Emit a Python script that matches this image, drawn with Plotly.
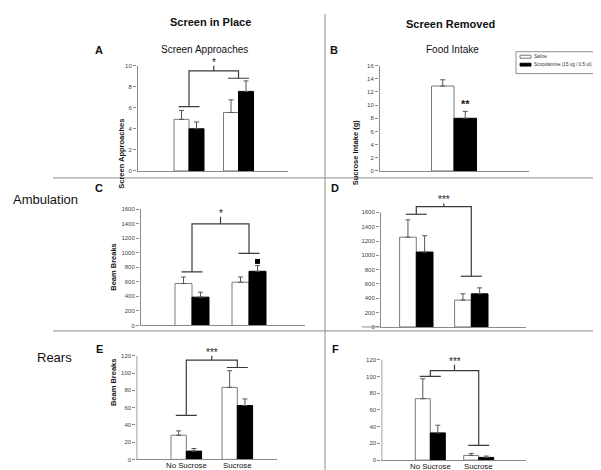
import plotly.graph_objects as go

W, H = 601, 470
FONT = "Liberation Sans, Arial, sans-serif"

# ---------------- data ----------------
groups = ["No Sucrose", "Sucrose"]
series_names = ["Saline", "Scopolamine (15 ug / 0.5 ul)"]

a_saline = [4.9, 5.55]
a_saline_sem = [0.85, 1.2]
a_scop = [4.0, 7.55]
a_scop_sem = [0.65, 1.0]

b_saline = [12.9]
b_saline_sem = [0.95]
b_scop = [8.0]
b_scop_sem = [1.05]

c_saline = [576, 594]
c_saline_sem = [90, 72]
c_scop = [389, 744]
c_scop_sem = [68, 78]

d_saline = [1254, 375]
d_saline_sem = [242, 88]
d_scop = [1046, 463]
d_scop_sem = [228, 83]

e_saline = [28, 83.4]
e_saline_sem = [5, 19.3]
e_scop = [9.6, 62.4]
e_scop_sem = [3, 7.6]

f_saline = [73.4, 5.6]
f_saline_sem = [23.8, 2.4]
f_scop = [32.5, 3.2]
f_scop_sem = [9.2, 1.6]

# significance brackets: [group-1 bar level, group-2 bar level, connector level, tick top]
a_bracket = [6.1, 8.8, 9.5, 10.0]
c_bracket = [735, 990, 1396, 1494]
d_bracket = [1574, 708, 1681, 1725]
e_bracket = [51, 106.4, 115, 120]
f_bracket = [100, 17.5, 107, 114]
a_sig, c_sig, d_sig, e_sig, f_sig = "*", "*", "***", "***", "***"
b_sig, b_sig_level = "**", 10.2
c_marker_level = 880

# ---------------- panel geometry (pixels) ----------------
panels = [
    dict(letter="A", sal=a_saline, sal_e=a_saline_sem, sco=a_scop, sco_e=a_scop_sem,
         left=129, right=280, c=[181, 230.5], y0=164, ytop_px=58, ytop=10, dtick=2, ymax=10.4,
         bw=15, bracket=a_bracket, sig=a_sig, ytitle="Screen Approaches", ytx=108, xlabels=False),
    dict(letter="B", sal=b_saline, sal_e=b_saline_sem, sco=b_scop, sco_e=b_scop_sem,
         left=371, right=521, c=[446], y0=164, ytop_px=58, ytop=16, dtick=2, ymax=16.4,
         bw=22.5, bracket=None, sig=None, ytitle="Sucrose Intake (g)", ytx=347, xlabels=False),
    dict(letter="C", sal=c_saline, sal_e=c_saline_sem, sco=c_scop, sco_e=c_scop_sem,
         left=132, right=297, c=[184, 241], y0=319.5, ytop_px=202.3, ytop=1600, dtick=200, ymax=1650,
         bw=17, bracket=c_bracket, sig=c_sig, ytitle="Beam Breaks", ytx=100, xlabels=False),
    dict(letter="D", sal=d_saline, sal_e=d_saline_sem, sco=d_scop, sco_e=d_scop_sem,
         left=372, right=518, c=[408.3, 463.3], y0=321, ytop_px=205.7, ytop=1600, dtick=200, ymax=1760,
         bw=16.7, bracket=d_bracket, sig=d_sig, ytitle=None, ytx=None, xlabels=False),
    dict(letter="E", sal=e_saline, sal_e=e_saline_sem, sco=e_scop, sco_e=e_scop_sem,
         left=128.3, right=269.3, c=[178.3, 229.3], y0=454.3, ytop_px=350, ytop=120, dtick=20, ymax=124,
         bw=15.3, bracket=e_bracket, sig=e_sig, ytitle="Beam Breaks", ytx=100, xlabels=True),
    dict(letter="F", sal=f_saline, sal_e=f_saline_sem, sco=f_scop, sco_e=f_scop_sem,
         left=373.3, right=518.3, c=[422.3, 470.7], y0=455, ytop_px=354, ytop=120, dtick=20, ymax=124,
         bw=15, bracket=f_bracket, sig=f_sig, ytitle=None, ytx=None, xlabels=True),
]

AXIS_GRAY = "#8a8a8a"
LINE_DARK = "#3a3a3a"

fig = go.Figure()
shapes = []
annotations = []
layout = {}


def px(x):
    return x / W


def py(y):
    return 1 - y / H


def ann(x, y, text, size, bold=False, xanchor="center", yanchor="middle", color="#111"):
    annotations.append(dict(
        x=px(x), y=py(y), xref="paper", yref="paper", text=f"<b>{text}</b>" if bold else text,
        showarrow=False, xanchor=xanchor, yanchor=yanchor, borderpad=0,
        font=dict(family=FONT, size=size, color=color)))


for i, p in enumerate(panels):
    sfx = "" if i == 0 else str(i + 1)
    xa, ya = "x" + sfx, "y" + sfx
    ncat = len(p["sal"])
    xs = list(range(1, ncat + 1))
    unit = (p["c"][1] - p["c"][0]) if ncat > 1 else 50.0
    xr0 = 1 - (p["c"][0] - p["left"]) / unit
    xr1 = ncat + (p["right"] - p["c"][-1]) / unit
    sc = (p["y0"] - p["ytop_px"]) / p["ytop"]
    dom_y = [py(p["y0"]), py(p["y0"] - sc * p["ymax"])]
    w = p["bw"] / unit

    fig.add_trace(go.Bar(
        x=xs, y=p["sal"], width=w, offset=-w, name=series_names[0], showlegend=False,
        marker=dict(color="white", line=dict(color="#7a7a7a", width=1)),
        error_y=dict(type="data", symmetric=False, array=p["sal_e"], arrayminus=[0] * ncat,
                     color="#555", thickness=1, width=2.5),
        xaxis=xa, yaxis=ya, hoverinfo="skip"))
    fig.add_trace(go.Bar(
        x=xs, y=p["sco"], width=w, offset=0, name=series_names[1], showlegend=False,
        marker=dict(color="black", line=dict(color="black", width=1)),
        error_y=dict(type="data", symmetric=False, array=p["sco_e"], arrayminus=[0] * ncat,
                     color="#555", thickness=1, width=2.5),
        xaxis=xa, yaxis=ya, hoverinfo="skip"))

    layout["xaxis" + sfx] = dict(
        domain=[px(p["left"]), px(p["right"])], anchor=ya, range=[xr0, xr1],
        showline=True, linecolor=AXIS_GRAY, linewidth=1, showgrid=False, zeroline=False,
        ticks="", showticklabels=False, fixedrange=True)
    layout["yaxis" + sfx] = dict(
        domain=dom_y, anchor=xa, range=[0, p["ymax"]],
        tickmode="array", tickvals=list(range(0, int(p["ytop"]) + 1, int(p["dtick"]))),
        showline=False, showgrid=False,
        zeroline=False, ticks="outside", ticklen=3, tickcolor=AXIS_GRAY, tickwidth=1,
        tickfont=dict(family=FONT, size=6, color="#444"), fixedrange=True)

    # y axis line drawn only up to the top tick
    lx = xr0 + 0.5 / unit
    shapes.append(dict(type="line", xref=xa, yref=ya, x0=lx, x1=lx, y0=0, y1=p["ytop"],
                       line=dict(color=AXIS_GRAY, width=1)))

    # category labels under the x axis
    if p["xlabels"]:
        for xv, g in zip(xs, groups):
            annotations.append(dict(x=xv, y=py(p["y0"] + 6.5), xref=xa, yref="paper", text=g,
                                    showarrow=False, yanchor="middle", borderpad=0,
                                    font=dict(family=FONT, size=7.8, color="#111")))

    # significance bracket
    if p["bracket"]:
        g1, g2, top, tk = p["bracket"]
        hw = 10.5 / unit
        ln = dict(color=LINE_DARK, width=1.2)
        shapes.append(dict(type="line", xref=xa, yref=ya, x0=1 - hw, x1=1 + hw, y0=g1, y1=g1, line=ln))
        shapes.append(dict(type="line", xref=xa, yref=ya, x0=2 - hw, x1=2 + hw, y0=g2, y1=g2, line=ln))
        shapes.append(dict(type="path", xref=xa, yref=ya,
                           path=f"M 1,{g1} L 1,{top} L 2,{top} L 2,{g2}", line=ln))
        shapes.append(dict(type="line", xref=xa, yref=ya, x0=1.5, x1=1.5, y0=top, y1=tk, line=ln))
        annotations.append(dict(x=1.5, y=tk, xref=xa, yref=ya, text=p["sig"], showarrow=False,
                                yanchor="bottom", yshift=-3, borderpad=0,
                                font=dict(family=FONT, size=10, color="#222")))

    if p["ytitle"]:
        annotations.append(dict(
            x=px(p["ytx"]), y=(dom_y[0] + py(p["ytop_px"])) / 2, xref="paper", yref="paper",
            text=f"<b>{p['ytitle']}</b>", textangle=-90, showarrow=False, borderpad=0,
            font=dict(family=FONT, size=7.5, color="#111")))

    if p["letter"] == "B":
        annotations.append(dict(x=1 + w / 2, y=b_sig_level, xref=xa, yref=ya, text=f"<b>{b_sig}</b>",
                                showarrow=False, borderpad=0,
                                font=dict(family=FONT, size=11, color="#111")))
    if p["letter"] == "C":
        fig.add_trace(go.Scatter(x=[2 + w / 2], y=[c_marker_level], mode="markers",
                                 marker=dict(symbol="square", size=5, color="black"),
                                 xaxis=xa, yaxis=ya, showlegend=False, hoverinfo="skip",
                                 cliponaxis=False))
    if p["letter"] == "D":
        # the original's baseline runs a little past the y axis on the left
        shapes.append(dict(type="line", xref="paper", yref="paper", x0=px(354), x1=px(p["left"]),
                           y0=py(p["y0"]), y1=py(p["y0"]), line=dict(color=AXIS_GRAY, width=1)))

# panel letters
for letter, (x, y) in zip("ABCDEF", [(91, 42), (326, 42), (91, 181), (327, 181), (91, 343), (327, 343)]):
    ann(x, y, letter, 11, bold=True)

# column / row titles
ann(202, 14.5, "Screen in Place", 11, bold=True)
ann(442, 16.5, "Screen Removed", 11, bold=True)
ann(196, 42, "Screen Approaches", 10)
ann(444, 42, "Food Intake", 10)
ann(4, 193, "Ambulation", 13, xanchor="left")
ann(28, 352, "Rears", 13, xanchor="left")

# divider lines
div = dict(color="#8c8c8c", width=1)
shapes.append(dict(type="line", xref="paper", yref="paper", x0=px(317), x1=px(317), y0=py(6), y1=0, line=div))
shapes.append(dict(type="line", xref="paper", yref="paper", x0=px(45), x1=px(595), y0=py(171), y1=py(171), line=div))
shapes.append(dict(type="line", xref="paper", yref="paper", x0=px(45), x1=px(595), y0=py(325), y1=py(325), line=div))

# legend (custom)
shapes.append(dict(type="rect", xref="paper", yref="paper", x0=px(508), x1=px(597), y0=py(44), y1=py(66),
                   line=dict(color="#8c8c8c", width=1), fillcolor="white"))
shapes.append(dict(type="rect", xref="paper", yref="paper", x0=px(512), x1=px(523), y0=py(47.5), y1=py(50.5),
                   line=dict(color="#555", width=0.8), fillcolor="white"))
shapes.append(dict(type="rect", xref="paper", yref="paper", x0=px(512), x1=px(523), y0=py(55.5), y1=py(58.5),
                   line=dict(color="black", width=0.8), fillcolor="black"))
ann(525, 49, series_names[0], 4.6, xanchor="left", color="#333")
ann(525, 57, series_names[1], 4.6, xanchor="left", color="#333")

fig.update_layout(
    width=W, height=H, margin=dict(l=0, r=0, t=0, b=0),
    paper_bgcolor="white", plot_bgcolor="white", showlegend=False,
    shapes=shapes, annotations=annotations, barmode="overlay", **layout)

fig.write_html("out.html")
